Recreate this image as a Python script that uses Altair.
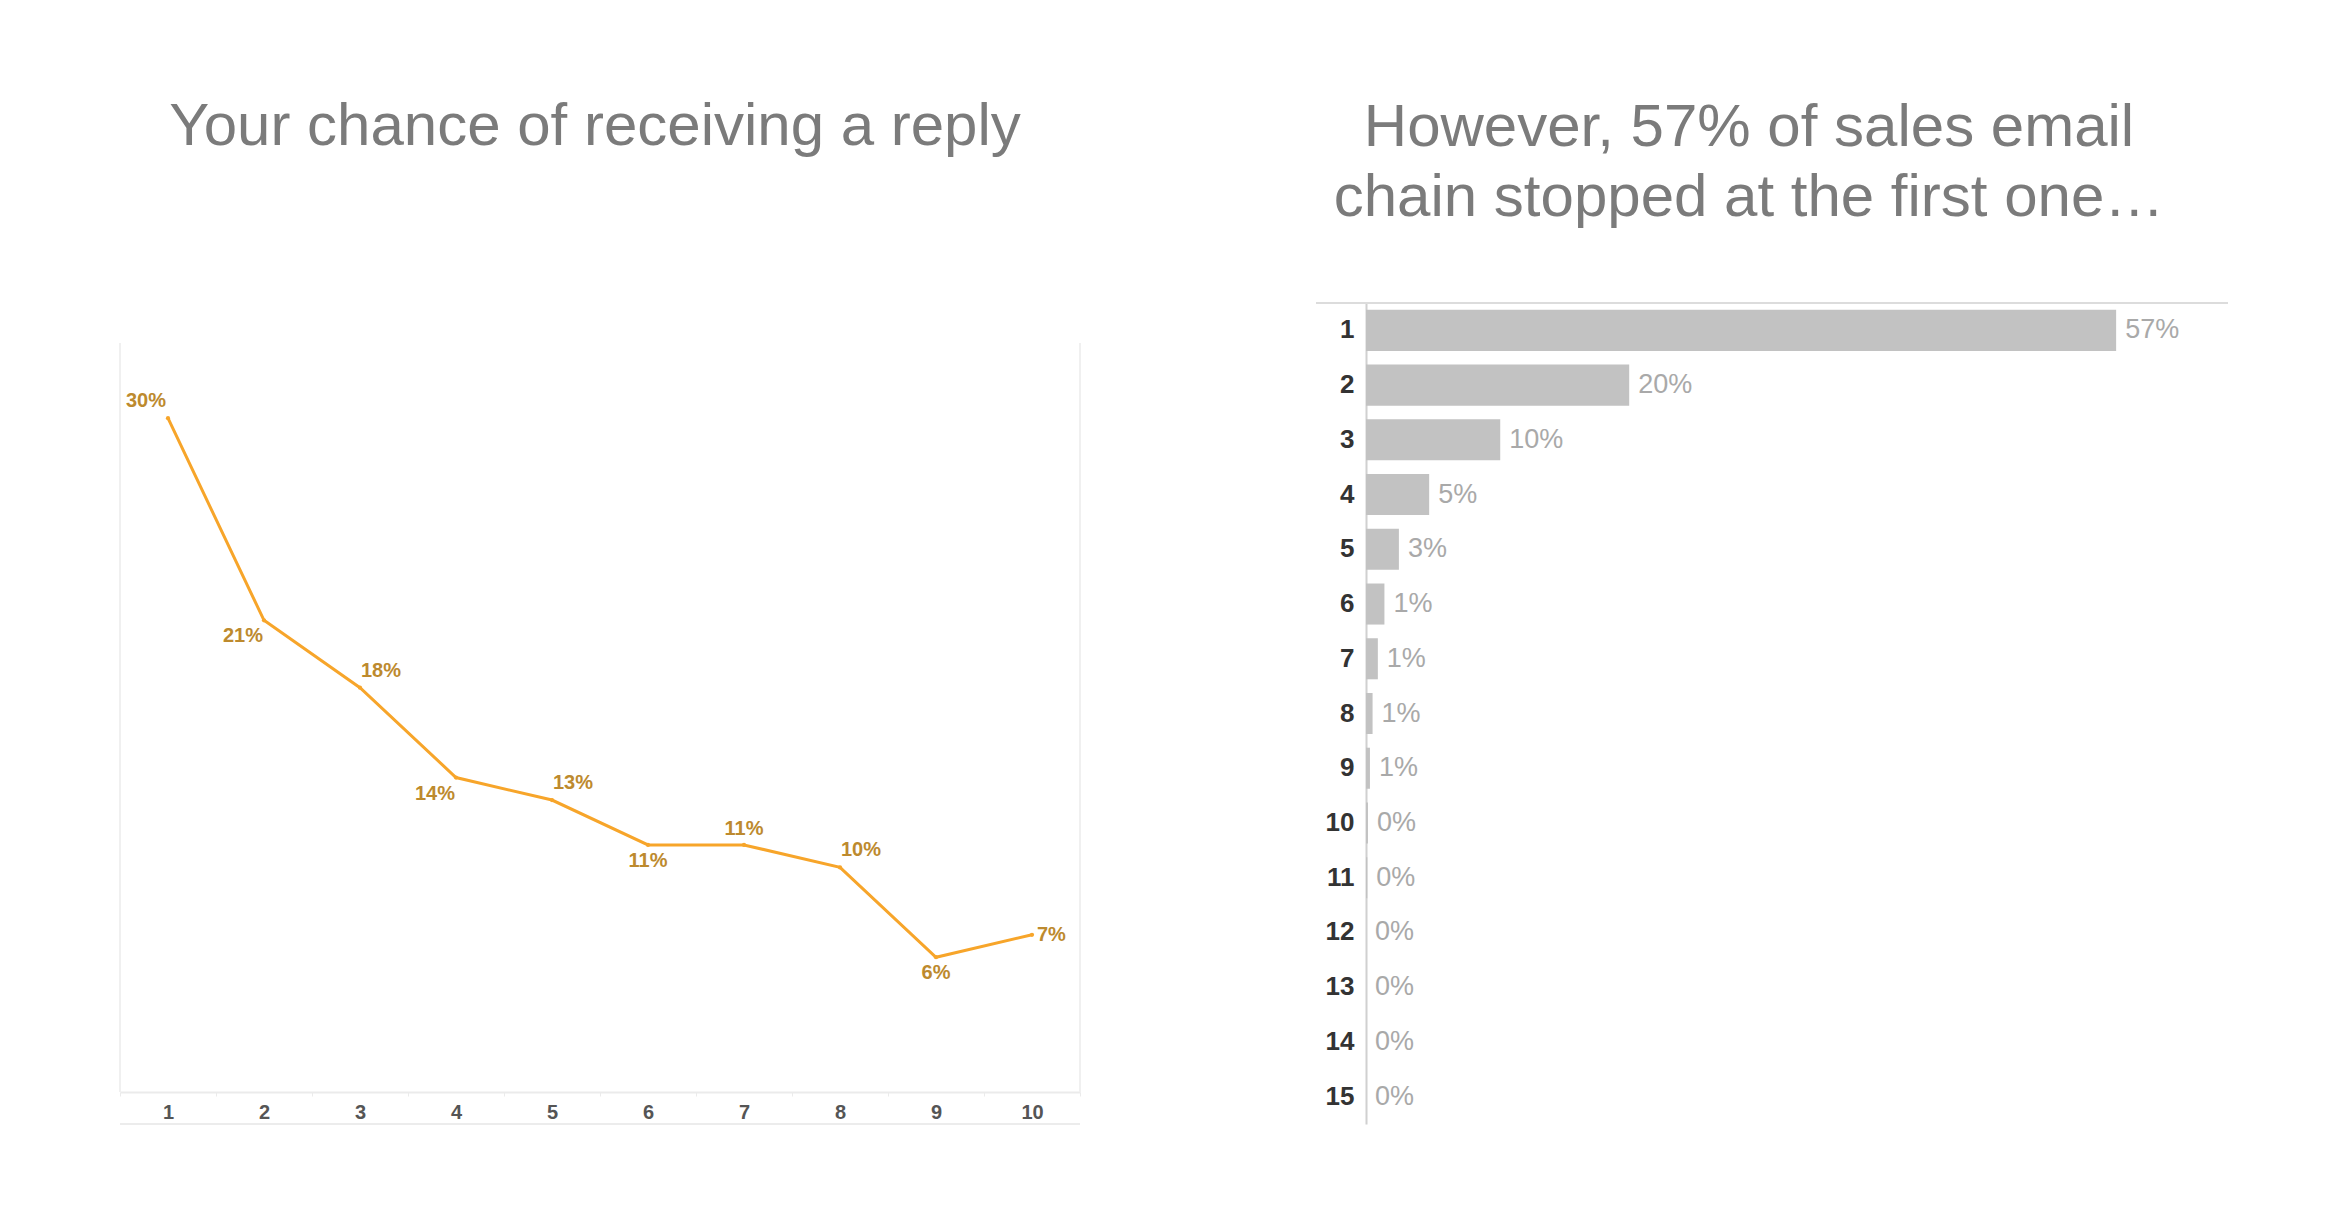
import altair as alt
import pandas as pd

FONT = "Liberation Sans"

# ---- left panel data: reply chance per follow-up email ----
steps = [1, 2, 3, 4, 5, 6, 7, 8, 9, 10]
reply_rate = [30, 21, 18, 14, 13, 11, 11, 10, 6, 7]
reply_labels = ["30%", "21%", "18%", "14%", "13%", "11%", "11%", "10%", "6%", "7%"]
label_place = ["tl", "bl", "tr", "bl", "tr", "b", "t", "tr", "b", "r"]

# ---- right panel data: where email chains stopped ----
chain_len = list(range(1, 16))
chain_share = [57, 20, 10.2, 4.8, 2.5, 1.4, 0.9, 0.5, 0.3, 0.15, 0.1, 0, 0, 0, 0]
chain_labels = ["57%", "20%", "10%", "5%", "3%", "1%", "1%", "1%", "1%",
                "0%", "0%", "0%", "0%", "0%", "0%"]

LW, LH = 960, 789      # left plot (top 40 px left empty above the frame)
LTOP = 40
RW, RH = 862, 821

left_df = pd.DataFrame({"step": steps, "rate": reply_rate,
                        "label": reply_labels, "place": label_place})
one = pd.DataFrame({"k": [0]})

xL = alt.X("step:O", bandPosition=0.5,
           scale=alt.Scale(type="band", paddingInner=0, paddingOuter=0),
           axis=alt.Axis(title=None, labelAngle=0, labelFont=FONT, labelFontSize=20,
                         labelFontWeight="bold", labelColor="#555555",
                         domainColor="#ebebeb", domainWidth=2, tickColor="#ebebeb",
                         tickSize=4, tickBand="extent", labelPadding=6))
yL = alt.Y("rate:Q", scale=alt.Scale(domain=[0, 35.13], nice=False, zero=True), axis=None)

base = alt.Chart(left_df)
line = base.mark_line(color="#F7A52A", strokeWidth=3).encode(x=xL, y=yL)
pts = base.mark_point(filled=True, color="#F7A52A", size=18, opacity=1).encode(x=xL, y=yL)

offsets = {
    "tl": dict(align="center", dx=-22, dy=-17),
    "bl": dict(align="center", dx=-21, dy=16),
    "tr": dict(align="center", dx=21, dy=-17),
    "b": dict(align="center", dx=0, dy=16),
    "t": dict(align="center", dx=0, dy=-16),
    "r": dict(align="left", dx=5, dy=0),
}
texts = []
for p, o in offsets.items():
    texts.append(
        base.transform_filter(alt.datum.place == p)
        .mark_text(baseline="middle", font=FONT, fontSize=20, fontWeight="bold",
                   color="#BD8A2E", **o)
        .encode(x=xL, y=yL, text="label:N")
    )

frame_l = alt.Chart(one).mark_rule(color="#f0f0f0", strokeWidth=2).encode(
    x=alt.value(0), y=alt.value(LTOP), y2=alt.value(LH))
frame_r = alt.Chart(one).mark_rule(color="#f0f0f0", strokeWidth=2).encode(
    x=alt.value(LW), y=alt.value(LTOP), y2=alt.value(LH))
frame_b = alt.Chart(one).mark_rule(color="#ececec", strokeWidth=2).encode(
    x=alt.value(0), x2=alt.value(LW), y=alt.value(LH + 32))

left = alt.layer(frame_l, frame_r, frame_b, line, pts, *texts).properties(
    width=LW, height=LH,
    title=alt.Title("Your chance of receiving a reply", font=FONT, fontSize=60,
                    fontWeight="normal", color="#7b7b7b", anchor="middle",
                    frame="group", offset=145, dx=-5),
)

right_df = pd.DataFrame({"n": chain_len, "share": chain_share, "label": chain_labels})
yR = alt.Y("n:O",
           scale=alt.Scale(type="band", paddingInner=0.25, paddingOuter=0.125),
           axis=alt.Axis(title=None, ticks=False, labelFont=FONT, labelFontSize=26,
                         labelFontWeight="bold", labelColor="#333333",
                         domainColor="#d0d0d0", domainWidth=2, labelPadding=12))
xR = alt.X("share:Q", scale=alt.Scale(domain=[0, 65.5], nice=False), axis=None)

rbase = alt.Chart(right_df)
bars = rbase.mark_bar(color="#c2c2c2").encode(x=xR, y=yR)
rtext = rbase.mark_text(align="left", baseline="middle", dx=9, font=FONT, fontSize=27,
                        color="#a9a9a9").encode(x=xR, y=yR, text="label:N")
toprule = alt.Chart(one).mark_rule(color="#dcdcdc", strokeWidth=2).encode(
    x=alt.value(-50), x2=alt.value(RW), y=alt.value(0))

right = alt.layer(toprule, bars, rtext).properties(
    width=RW, height=RH,
    title=alt.Title(["However, 57% of sales email", "chain stopped at the first one…"],
                    font=FONT, fontSize=60, fontWeight="normal", color="#7b7b7b",
                    anchor="middle", frame="group", offset=73, lineHeight=70, dx=-48),
)

chart = (
    alt.hconcat(left, right, spacing=234)
    .properties(padding={"left": 119, "top": 97, "right": 0, "bottom": 0})
    .configure(font=FONT)
    .configure_view(strokeWidth=0)
)

chart.save("out.html", embed_options={"renderer": "svg", "actions": False})
